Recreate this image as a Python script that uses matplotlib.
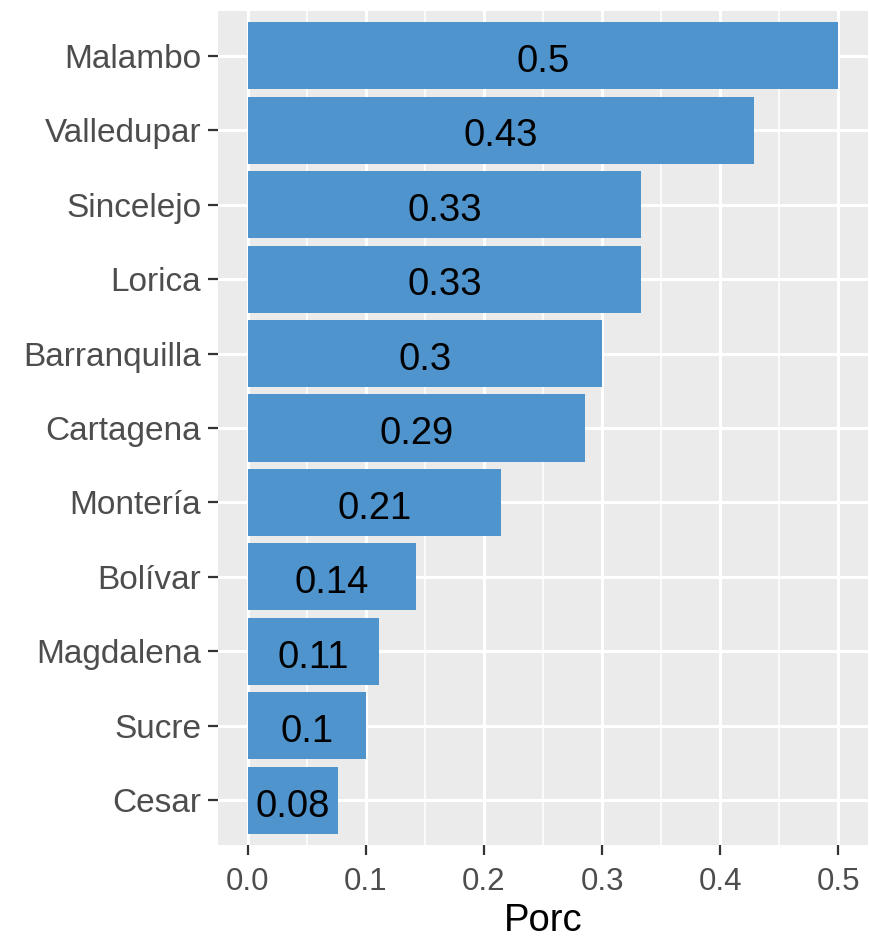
import matplotlib
matplotlib.use("Agg")
from matplotlib import pyplot as plt
from matplotlib.ticker import MultipleLocator

plt.rcParams['font.family'] = ['Liberation Sans', 'DejaVu Sans']

# ciudades de abajo hacia arriba
ciudades = ["Cesar", "Sucre", "Magdalena", "Bolívar", "Montería", "Cartagena",
            "Barranquilla", "Lorica", "Sincelejo", "Valledupar", "Malambo"]
porc = [0.0769, 0.1, 0.1111, 0.1429, 0.2143, 0.2857, 0.3, 0.3333, 0.3333, 0.4286, 0.5]
x_ticks = [0.0, 0.1, 0.2, 0.3, 0.4, 0.5]
x_tick_labels = ["0.0", "0.1", "0.2", "0.3", "0.4", "0.5"]

fig = plt.figure(figsize=(8.69, 9.42), dpi=100)
ax = fig.add_axes([218/869, 1-845/942, 650/869, 834/942])

ax.set_facecolor("#EBEBEB")
for s in ax.spines.values():
    s.set_visible(False)

pos = list(range(1, len(ciudades)+1))
ax.barh(pos, porc, height=0.9, color="#4F94CD", zorder=3)

# etiquetas en el centro de cada barra (un poco bajadas, como ggplot)
for p, v in zip(pos, porc):
    ax.annotate("{:g}".format(round(v, 2)), xy=(v/2, p), xytext=(0, -4.5),
                textcoords="offset points", ha="center", va="center",
                fontsize=27.5, color="black", zorder=4)

ax.set_xlim(-0.025, 0.525)
ax.set_ylim(0.4, len(ciudades)+0.6)
ax.set_xticks(x_ticks)
ax.set_xticklabels(x_tick_labels)
ax.xaxis.set_minor_locator(MultipleLocator(0.05))
ax.set_yticks(pos)
ax.set_yticklabels(ciudades)

ax.grid(which="major", color="white", linewidth=2.2, zorder=1)
ax.grid(which="minor", axis="x", color="white", linewidth=1.1, zorder=1)
ax.set_axisbelow(True)

ax.tick_params(which="major", length=7, width=1.6, color="#333333",
               labelcolor="#4D4D4D")
ax.tick_params(axis="x", which="major", labelsize=22.5, pad=9)
ax.tick_params(axis="y", which="major", labelsize=24, pad=5)
ax.tick_params(which="minor", length=0)

ax.set_xlabel("Porc", fontsize=27.5, color="black", labelpad=4.5)

fig.savefig("out.png", dpi=100)
